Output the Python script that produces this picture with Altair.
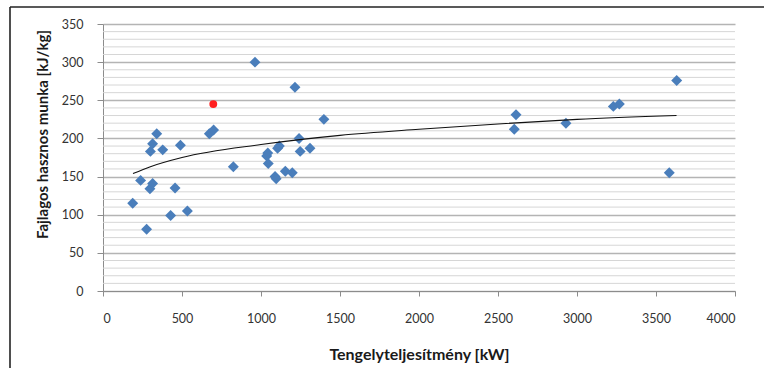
import altair as alt
import pandas as pd

# Blue series (diamonds)
blue_x = [188, 238, 276, 297, 314, 300, 314, 340, 378, 428, 456, 490, 534,
          673, 700, 825, 962, 1036, 1043, 1046, 1089, 1096, 1105, 1116, 1154,
          1198, 1215, 1241, 1248, 1310, 1398, 2603, 2614, 2930, 3230, 3268,
          3584, 3631]
blue_y = [115, 145, 81, 134, 141, 183, 193, 206, 185, 99, 135, 191, 105,
          206, 211, 163, 300, 177, 181, 167, 150, 147, 187, 190, 157,
          155, 267, 200, 183, 187, 225, 212, 231, 220, 242, 245,
          155, 276]
# Red highlighted point
red_x = [698]
red_y = [245]
# Trend line
trend_x = [190, 300, 500, 1000, 1500, 2000, 2500, 3000, 3630]
trend_y = [154, 163, 175, 192, 204, 212, 219, 225, 230]

x_ticks = [0, 500, 1000, 1500, 2000, 2500, 3000, 3500, 4000]
y_major = [0, 50, 100, 150, 200, 250, 300, 350]
y_minor = [v for v in range(10, 350, 10) if v % 50 != 0]

blue = pd.DataFrame({"x": blue_x, "y": blue_y})
red = pd.DataFrame({"x": red_x, "y": red_y})
trend_df = pd.DataFrame({"x": trend_x, "y": trend_y})
minor_df = pd.DataFrame({"y": y_minor})

FONT = "Lato"

xscale = alt.Scale(domain=[0, 4000], nice=False, zero=False)
yscale = alt.Scale(domain=[0, 350], nice=False)

x_axis = alt.Axis(
    values=x_ticks, tickCount=20, grid=False, format="d",
    title="Tengelyteljesítmény [kW]",
    domainColor="#8c8c8c", tickColor="#8c8c8c", tickSize=5,
    labelFont=FONT, labelFontSize=12.5, labelColor="#333333", labelPadding=16,
    titleFont=FONT, titleFontSize=16, titleFontWeight="bold", titleColor="#1a1a1a",
    titleX=316, titleY=63, titleBaseline="middle",
)
y_axis = alt.Axis(
    values=y_major, tickCount=20, title="Fajlagos hasznos munka [kJ/kg]", format="d",
    grid=True, gridColor="#b4b4b4", gridWidth=1.6,
    domainColor="#8c8c8c", tickColor="#8c8c8c", tickSize=6,
    labelFont=FONT, labelFontSize=12.5, labelColor="#333333", labelPadding=14,
    labelOverlap=False,
    titleFont=FONT, titleFontSize=15, titleFontWeight="bold", titleColor="#1a1a1a",
    titleX=-61, titleY=110, titleBaseline="middle", titleAlign="center",
)

minor = alt.Chart(minor_df).mark_rule(color="#d6d6d6", strokeWidth=1).encode(
    y=alt.Y("y:Q", scale=yscale)
)

points = alt.Chart(blue).mark_point(
    shape="diamond", filled=True, size=120, color="#4a7ebb", opacity=1
).encode(
    x=alt.X("x:Q", scale=xscale, axis=x_axis),
    y=alt.Y("y:Q", scale=yscale, axis=y_axis),
)

trend = alt.Chart(trend_df).mark_line(
    color="#111111", strokeWidth=1.1, interpolate="monotone"
).encode(
    x=alt.X("x:Q", scale=xscale),
    y=alt.Y("y:Q", scale=yscale),
)

redpt = alt.Chart(red).mark_point(
    shape="circle", filled=True, size=62, color="#ff1f1f", opacity=1
).encode(
    x=alt.X("x:Q", scale=xscale),
    y=alt.Y("y:Q", scale=yscale),
)

frame_df = pd.DataFrame({"a": [0]})
frame_top = alt.Chart(frame_df).mark_rule(color="#222222", strokeWidth=1.6).encode(
    x=alt.value(-93), x2=alt.value(700), y=alt.value(-17)
)
frame_left = alt.Chart(frame_df).mark_rule(color="#222222", strokeWidth=1.6).encode(
    x=alt.value(-93), y=alt.value(-17), y2=alt.value(400)
)

chart = alt.layer(minor, points, trend, redpt, frame_top, frame_left).properties(
    width=632, height=267,
    autosize=alt.AutoSizeParams(type="none"),
    padding={"left": 103, "top": 24, "right": 29, "bottom": 77},
    background="white",
).configure_view(strokeWidth=0)

chart.save("out.html", embed_options={"renderer": "svg", "actions": False})
